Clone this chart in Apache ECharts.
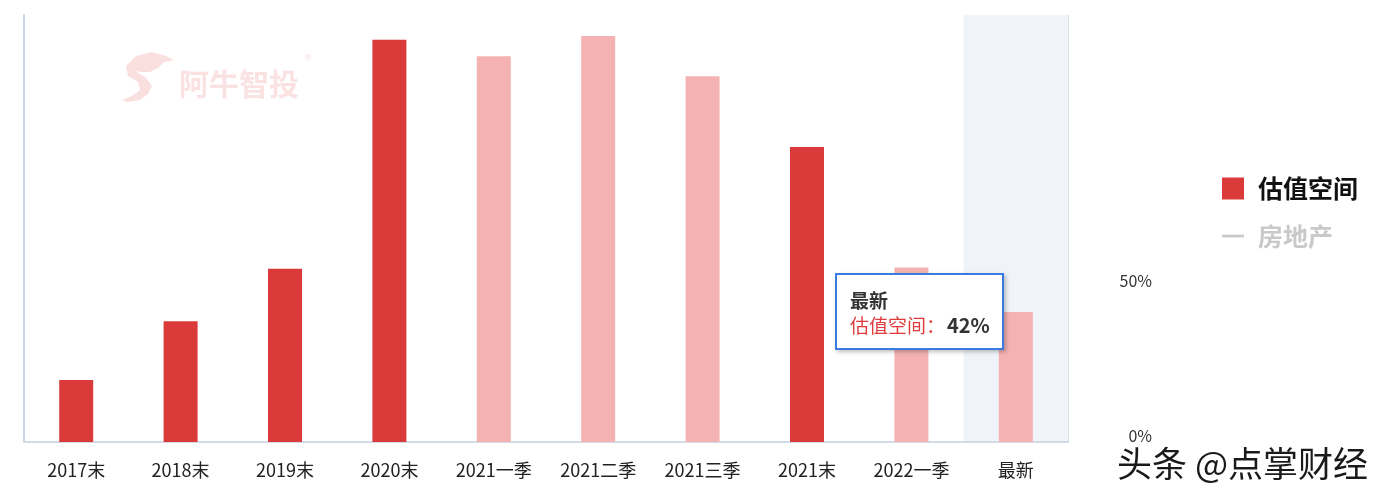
<!DOCTYPE html>
<html>
<head>
<meta charset="utf-8">
<script src="https://cdn.jsdelivr.net/npm/echarts@6/dist/echarts.min.js"></script>
<style>
html,body{margin:0;padding:0;background:#fff;}
#c{width:1384px;height:501px;}
</style>
</head>
<body>
<div id="c"></div>
<script>
const categories = ['2017末','2018末','2019末','2020末','2021一季','2021二季','2021三季','2021末','2022一季','最新'];
const valuationValues = [20, 39, 56, 130, 124.7, 131.2, 118.2, 95.3, 56.4, 42];
const propertyValues = [];
const yTickLabels = [0, 50];

const DARK = '#db3a3b';
const LIGHT = '#f4b2b2';
const isQuarterly = name => name.indexOf('季') >= 0 || name === '最新';

const chart = echarts.init(document.getElementById('c'), null, {renderer: 'canvas'});
const fontCJK = '"Noto Sans CJK SC","Noto Sans",sans-serif';

chart.setOption({
  animation: false,
  textStyle: {fontFamily: fontCJK},
  grid: {left: 24, right: 316, top: 15, bottom: 59, containLabel: false},
  legend: {
    orient: 'vertical',
    left: 1217,
    top: 171,
    itemWidth: 22,
    itemHeight: 22,
    itemGap: 23,
    inactiveColor: '#c9c9c9',
    textStyle: {fontSize: 25, fontWeight: 'bold', color: '#111', padding: [0, 0, 0, 9], fontFamily: fontCJK},
    data: [
      {name: '估值空间', icon: 'rect'},
      {name: '房地产', icon: 'path://M0,0 M0,10 L24,10 L24,13 L0,13 Z M24,24'}
    ],
    selected: {'估值空间': true, '房地产': false}
  },
  tooltip: {
    trigger: 'axis',
    alwaysShowContent: true,
    transitionDuration: 0,
    axisPointer: {type: 'shadow', z: 0, shadowStyle: {color: 'rgba(226,233,244,0.5)'}},
    backgroundColor: '#fff',
    borderColor: '#3a7be0',
    borderWidth: 2,
    borderRadius: 0,
    padding: [12, 12, 11, 13],
    extraCssText: 'box-shadow:2px 2px 4px rgba(0,0,0,0.25);',
    position: function () { return [835, 273]; },
    formatter: function (params) {
      const p = params.filter(x => x.seriesName === '估值空间')[0];
      return '<div style="font-family:' + "'Noto Sans CJK SC',sans-serif" + ';line-height:25px;white-space:nowrap;">' +
        '<div style="font-size:19px;font-weight:bold;color:#333;">' + p.name + '</div>' +
        '<div style="font-size:19px;"><span style="color:#e03a3a;">' + p.seriesName + '：</span>' +
        '<span style="font-weight:bold;color:#333;font-size:20px;margin-left:2px;">' + Math.round(p.value) + '%</span></div></div>';
    }
  },
  xAxis: {
    type: 'category',
    data: categories,
    axisLine: {show: true, lineStyle: {color: '#d3dbe8', width: 2}},
    axisTick: {show: false},
    axisLabel: {fontSize: 18, color: '#222', margin: 19, interval: 0}
  },
  yAxis: [
    {
      type: 'value',
      position: 'right',
      min: 0,
      max: 138,
      interval: 50,
      axisLine: {show: true, lineStyle: {color: '#d8dfea', width: 1}},
      axisTick: {show: false},
      splitLine: {show: false},
      axisLabel: {
        show: true,
        align: 'right',
        margin: 84,
        verticalAlign: 'bottom',
        lineHeight: 12,
        fontSize: 16,
        color: '#333',
        showMaxLabel: false,
        formatter: v => yTickLabels.indexOf(v) >= 0 ? v + '%' : ''
      }
    },
    {
      type: 'value',
      position: 'left',
      min: 0,
      max: 138,
      interval: 50,
      axisLine: {show: true, lineStyle: {color: '#c9d4e4', width: 2}},
      axisTick: {show: false},
      splitLine: {show: false},
      axisLabel: {show: false}
    }
  ],
  graphic: [
    {type: 'polygon', silent: true,
      shape: {points: [[126,66],[136,56],[152,52],[166,56],[174,60],[164,62],[158,68],[150,72],[140,72],[134,70],[146,78],[152,86],[148,94],[140,100],[128,102],[122,100],[132,96],[140,90],[138,82],[128,76]]},
      style: {fill: 'rgba(238,150,150,0.3)'}},
    {type: 'text', left: 179, top: 69, silent: true,
      style: {text: '阿牛智投', fontSize: 30, fontWeight: 'bold', fill: 'rgba(238,150,150,0.28)', fontFamily: fontCJK}},
    {type: 'text', left: 305, top: 54, silent: true,
      style: {text: '®', fontSize: 9, fill: 'rgba(238,150,150,0.35)'}},
    {type: 'text', right: 16, top: 446, silent: true,
      style: {text: '头条 @点掌财经', fontSize: 35, fill: '#1a1a1a', fontFamily: fontCJK,
        textShadowColor: 'rgba(0,0,0,0.35)', textShadowOffsetX: 1, textShadowOffsetY: 1, textShadowBlur: 0}}
  ],
  series: [
    {
      name: '估值空间',
      type: 'bar',
      yAxisIndex: 0,
      barWidth: 34,
      z: 5,
      emphasis: {disabled: true},
      itemStyle: {color: DARK},
      data: valuationValues.map((v, i) => ({value: v, itemStyle: {color: isQuarterly(categories[i]) ? LIGHT : DARK}}))
    },
    {
      name: '房地产',
      type: 'line',
      yAxisIndex: 0,
      symbol: 'none',
      lineStyle: {color: '#999'},
      itemStyle: {color: '#999'},
      data: propertyValues
    }
  ]
});

chart.dispatchAction({type: 'showTip', seriesIndex: 0, dataIndex: 9});
</script>
</body>
</html>
